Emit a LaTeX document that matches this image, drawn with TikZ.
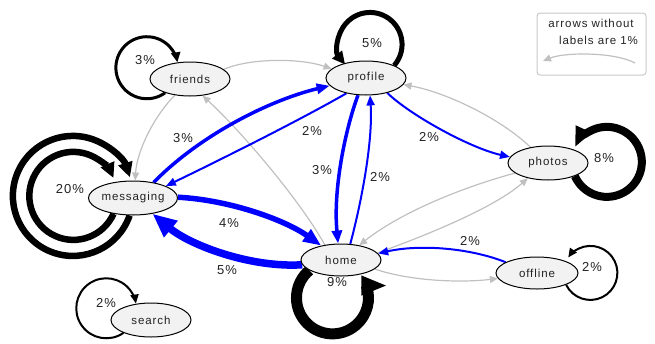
\documentclass[tikz,border=0pt]{standalone}
\usepackage{fontspec}
\setmainfont[LetterSpace=8]{Liberation Sans}
\usetikzlibrary{arrows.meta,shapes.geometric}
\definecolor{edgegray}{HTML}{C0C0C0}
\definecolor{legendgray}{HTML}{C8C8C8}
\definecolor{nodefill}{HTML}{F2F2F2}
\definecolor{txt}{HTML}{222222}
\pgfdeclarelayer{bg}
\pgfsetlayers{bg,main}
\tikzset{
  state/.style={ellipse, draw=black, line width=1pt, fill=nodefill, minimum width=80pt, minimum height=34pt, inner sep=0pt, font=\fontsize{11.5}{13}\selectfont, text=txt},
  pct/.style={font=\fontsize{13}{15}\selectfont, text=txt, inner sep=0pt},
  grayedge/.style={draw=edgegray, line width=1.2pt, -{Triangle[length=8pt,width=7pt]}},
  blueA/.style={draw=blue, line width=2pt, -{Triangle[length=10pt,width=8pt]}},
  blueB/.style={draw=blue, line width=3.5pt, -{Triangle[length=13pt,width=10pt]}},
  blueC/.style={draw=blue, line width=5.5pt, -{Triangle[length=18pt,width=14pt]}},
  blueD/.style={draw=blue, line width=7.5pt, -{Triangle[length=24pt,width=20pt]}},
  loopthin/.style={draw=black, line width=2pt, -{Triangle[length=9pt,width=8pt]}},
  loopfr/.style={draw=black, line width=3pt, -{Triangle[length=10pt,width=9pt]}},
  looppr/.style={draw=black, line width=5pt, -{Triangle[length=13pt,width=12pt]}},
  loopph/.style={draw=black, line width=8pt, -{Triangle[length=20pt,width=16pt]}},
  loopms/.style={draw=black, line width=6.5pt, -{Triangle[length=15pt,width=14pt]}},
  loopho/.style={draw=black, line width=11pt, -{Triangle[length=26pt,width=18pt]}},
}
\begin{document}
\begin{tikzpicture}[x=1pt,y=-1pt]
\useasboundingbox (0,0) rectangle (655,343);

% nodes
\node[state] (friends) at (190,79) {friends};
\node[state] (profile) at (366,78) {profile};
\node[state] (photos) at (548,163) {photos};
\node[state, minimum width=84pt] (messaging) at (133,198) {messaging};
\node[state, minimum height=32pt] (home) at (341,260) {home};
\node[state, minimum width=82pt, minimum height=32pt] (offline) at (537,273) {offline};
\node[state] (search) at (151,320) {search};

% legend
\node[draw=legendgray, line width=1pt, rounded corners=3pt, minimum width=109pt, minimum height=62pt, inner sep=0pt] (legend) at (591.5,44) {};
\node[font=\fontsize{11.5}{13}\selectfont, text=txt, inner sep=0pt] (lg1) at (591,23) {arrows without};
\node[font=\fontsize{11.5}{13}\selectfont, text=txt, inner sep=0pt] (lg2) at (598.5,40) {labels are 1\%};
\coordinate (lgs) at (635,63);
\coordinate (lge) at (543,61);

\begin{pgfonlayer}{bg}
% legend arrow
\draw[grayedge] (lgs) .. controls (615,52) and (565,52) .. (lge);

% gray edges
\draw[grayedge] (friends.16) .. controls (250,58) and (300,58) .. (profile.165);
\draw[grayedge] (friends.227) .. controls (155,115) and (137,150) .. (messaging.83);
\draw[grayedge] (home.137) .. controls (300,200) and (240,130) .. (friends.-53);
\draw[grayedge] (photos.138) .. controls (500,118) and (445,92) .. (profile.-10);
\draw[grayedge] (photos.197) .. controls (460,188) and (400,213) .. (home.39);
\draw[grayedge] (home.11) .. controls (430,234) and (495,207) .. (photos.217);
\draw[grayedge] (home.-15) .. controls (410,281) and (460,283) .. (offline.188);

% blue edges
\draw[blueB] (messaging.37) .. controls (200,135) and (270,100) .. (profile.192);
\draw[blueA] (profile.218) .. controls (300,120) and (220,160) .. (messaging.20);
\draw[blueB] (profile.245) .. controls (345,130) and (333,190) .. (home.100);
\draw[blueA] (home.60) .. controls (362,200) and (373,140) .. (profile.283);
\draw[blueA] (profile.-35) .. controls (410,115) and (470,148) .. (photos.171);
\draw[blueC] (messaging.1) .. controls (230,200) and (285,220) .. (home.144);
\draw[blueD] (home.187) .. controls (250,268) and (190,245) .. (messaging.-39);
\draw[blueA] (offline.161) .. controls (470,248) and (420,244) .. (home.10);

% loops
\draw[loopfr] (friends.209) arc[start angle=54, end angle=350, radius=31];
\draw[looppr] (profile.24) arc[start angle=41, end angle=-219, radius=32];
\draw[loopph] (photos.-26) arc[start angle=156, end angle=-155, radius=35];
\draw[loopms] (messaging.259) arc[start angle=19, end angle=342, radius=60];
\draw[loopms] (messaging.219) arc[start angle=24, end angle=336, radius=44];
\draw[loopho] (home.198) arc[start angle=230, end angle=-20, radius=36] -- ++(21,0);
\draw[loopthin] (offline.-22) arc[start angle=154, end angle=-145, radius=27];
\draw[loopthin] (search.205) arc[start angle=55, end angle=351, radius=30];
\end{pgfonlayer}

% labels
\node[pct] (p1) at (145,60) {3\%};
\node[pct] (p2) at (372,43) {5\%};
\node[pct] (p3) at (604,158) {8\%};
\node[pct] (p4) at (70,189) {20\%};
\node[pct] (p5) at (337,282) {9\%};
\node[pct] (p6) at (592,267) {2\%};
\node[pct] (p7) at (106,303) {2\%};
\node[pct] (p8) at (183,138) {3\%};
\node[pct] (p9) at (312,131) {2\%};
\node[pct] (p10) at (322,170) {3\%};
\node[pct] (p11) at (380,177) {2\%};
\node[pct] (p12) at (429,137) {2\%};
\node[pct] (p13) at (229,223) {4\%};
\node[pct] (p14) at (227,270) {5\%};
\node[pct] (p15) at (470,241) {2\%};
\end{tikzpicture}
\end{document}
